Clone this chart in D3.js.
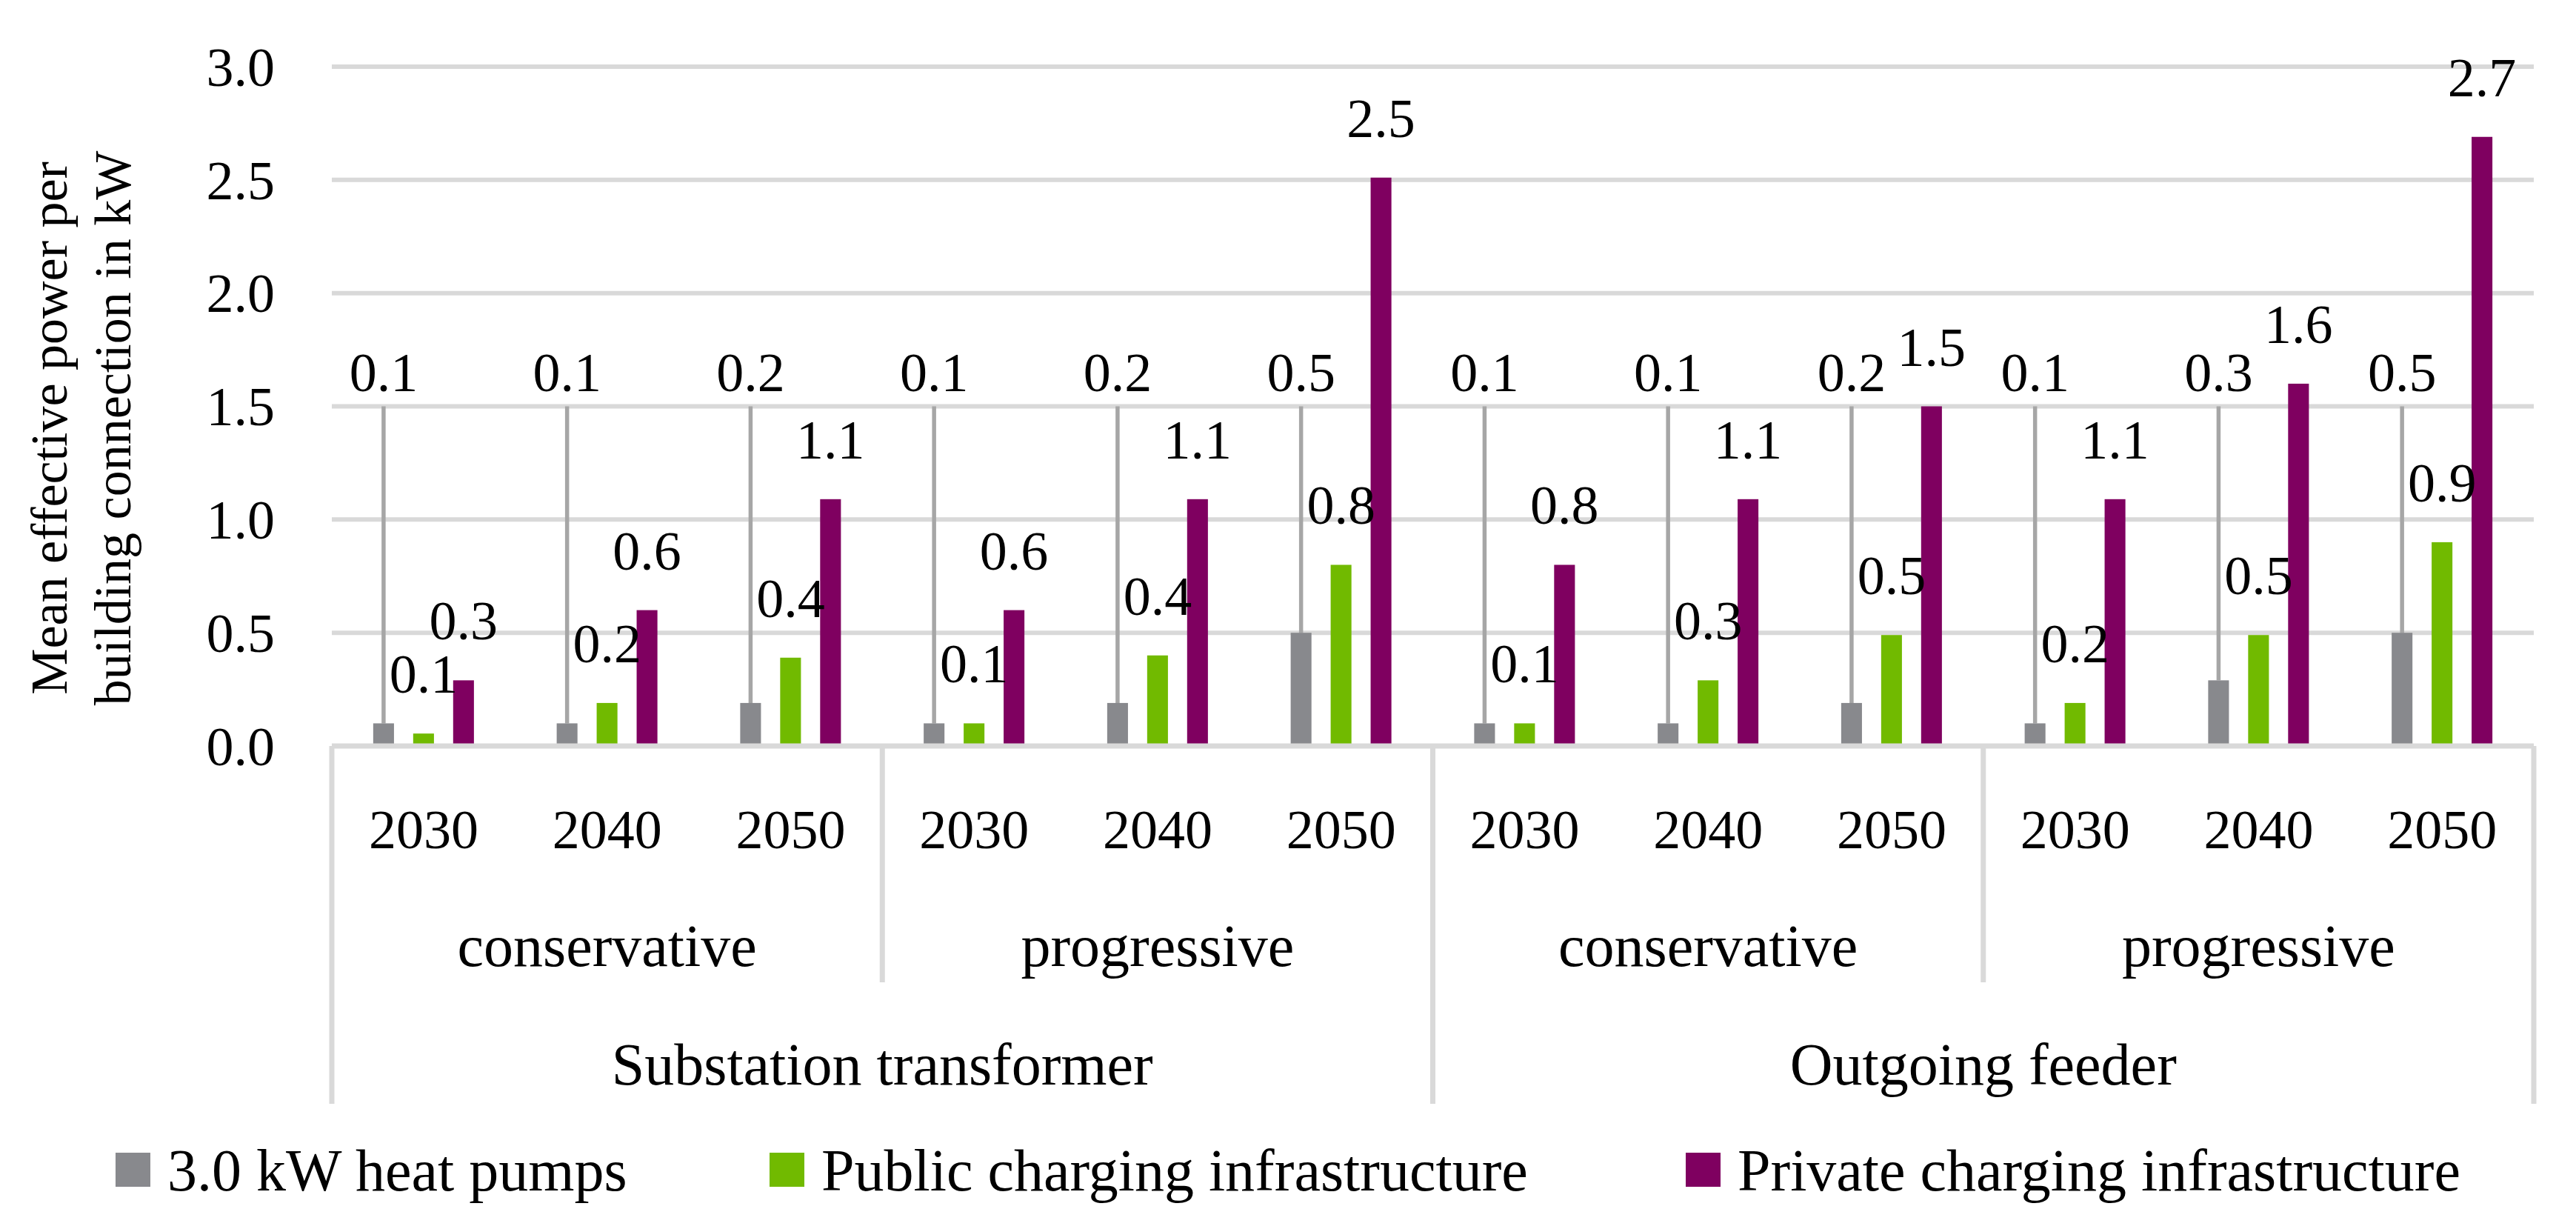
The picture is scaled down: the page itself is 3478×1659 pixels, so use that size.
<!DOCTYPE html>
<html>
<head>
<meta charset="utf-8">
<script src="https://cdn.jsdelivr.net/npm/d3@7"></script>
<style>
  body { margin: 0; background: #fff; }
  text { font-family: "Palatino Linotype", "Book Antiqua", Palatino, "Liberation Serif", serif; fill: #000; }
</style>
</head>
<body>
<div id="chart"></div>
<script>
// categories (outer group, scenario, year) and the three series
const groups = ['Substation transformer', 'Outgoing feeder'];
const scenarios = ['conservative', 'progressive'];
const years = ['2030', '2040', '2050'];
const seriesNames = ['3.0 kW heat pumps', 'Public charging infrastructure', 'Private charging infrastructure'];
const seriesColors = ['#88898D', '#71BA00', '#7F0060'];

// values in kW, one per group/scenario/year in the order above
const heatPumps       = [0.10, 0.10, 0.19, 0.10, 0.19, 0.50, 0.10, 0.10, 0.19, 0.10, 0.29, 0.50];
const publicCharging  = [0.055, 0.19, 0.39, 0.10, 0.40, 0.80, 0.10, 0.29, 0.49, 0.19, 0.49, 0.90];
const privateCharging = [0.29, 0.60, 1.09, 0.60, 1.09, 2.51, 0.80, 1.09, 1.50, 1.09, 1.60, 2.69];

const yTicks = [0, 0.5, 1.0, 1.5, 2.0, 2.5, 3.0];
const yTitle = ['Mean effective power per', 'building connection in kW'];

const W = 3478, H = 1659;
const plotLeft = 448, plotRight = 3421, plotTop = 90, plotBottom = 1007;
const fs = 74;      // numbers
const wordFs = 80;  // category words and legend
const gridColor = '#D9D9D9';

const svg = d3.select('#chart').append('svg')
  .attr('width', W).attr('height', H);

// build rows
const rows = [];
groups.forEach((g, gi) => scenarios.forEach((s, si) => years.forEach((yr, yi) => {
  const i = gi * 6 + si * 3 + yi;
  rows.push({key: g + '|' + s + '|' + yr, group: g, scenario: s, year: yr,
    values: [heatPumps[i], publicCharging[i], privateCharging[i]]});
})));

const x0 = d3.scaleBand().domain(rows.map(d => d.key)).range([plotLeft, plotRight]).padding(0);
const half = 68;
const x1 = d3.scaleBand().domain(d3.range(3))
  .range([x0.bandwidth() / 2 - half, x0.bandwidth() / 2 + half]).paddingInner(0.48);
const y = d3.scaleLinear().domain([0, 3]).range([plotBottom, plotTop]);
const fmt = d3.format('.1f');

// gridlines
svg.append('g').selectAll('line').data(yTicks.filter(t => t > 0)).join('line')
  .attr('x1', plotLeft).attr('x2', plotRight)
  .attr('y1', d => y(d)).attr('y2', d => y(d))
  .attr('stroke', gridColor).attr('stroke-width', 6);

// y axis labels
const yAxis = svg.append('g').attr('transform', `translate(${plotLeft - 77},0)`)
  .call(d3.axisLeft(y).tickValues(yTicks).tickFormat(fmt).tickSize(0).tickPadding(0));
yAxis.select('.domain').remove();
yAxis.selectAll('text').attr('font-size', fs).attr('dy', '0.34em')
  .style('font-family', '"Palatino Linotype", "Book Antiqua", Palatino, "Liberation Serif", serif');

// y title
const yt = svg.append('text').attr('transform', `translate(90,578) rotate(-90)`)
  .attr('text-anchor', 'middle').attr('font-size', 70);
yTitle.forEach((t, i) => yt.append('tspan').attr('x', 0).attr('y', i * 86).text(t));

// bars
const cats = svg.append('g').selectAll('g').data(rows).join('g')
  .attr('transform', d => `translate(${x0(d.key)},0)`);

// leader lines for the heat pump labels
const leaderTop = y(1.5);
cats.append('line')
  .attr('x1', x1(0) + x1.bandwidth() / 2).attr('x2', x1(0) + x1.bandwidth() / 2)
  .attr('y1', leaderTop).attr('y2', d => y(d.values[0]))
  .attr('stroke', '#A6A6A6').attr('stroke-width', 5.5);

cats.selectAll('rect').data(d => d.values.map((v, i) => ({v, i}))).join('rect')
  .attr('x', d => x1(d.i)).attr('width', x1.bandwidth())
  .attr('y', d => y(d.v)).attr('height', d => y(0) - y(d.v))
  .attr('fill', d => seriesColors[d.i]);

// value labels
cats.selectAll('text.val').data(d => d.values.map((v, i) => ({v, i}))).join('text')
  .attr('class', 'val')
  .attr('x', d => x1(d.i) + x1.bandwidth() / 2)
  .attr('y', d => d.i === 0 ? leaderTop - 21 : y(d.v) - 55)
  .attr('text-anchor', 'middle').attr('font-size', fs)
  .text(d => fmt(d.v));

// category axis: baseline and separators
const ax = svg.append('g');
ax.append('line').attr('x1', plotLeft).attr('x2', plotRight).attr('y1', plotBottom).attr('y2', plotBottom)
  .attr('stroke', gridColor).attr('stroke-width', 7);
const step = x0.step();
const seps = d3.range(0, rows.length + 1, 3).map(k => ({x: plotLeft + k * step, outer: k % 6 === 0}));
ax.selectAll('line.sep').data(seps).join('line').attr('class', 'sep')
  .attr('x1', d => d.x).attr('x2', d => d.x)
  .attr('y1', plotBottom).attr('y2', d => d.outer ? 1490 : 1326)
  .attr('stroke', gridColor).attr('stroke-width', 7);

// year labels
ax.selectAll('text.year').data(rows).join('text').attr('class', 'year')
  .attr('x', d => x0(d.key) + x0.bandwidth() / 2).attr('y', 1145)
  .attr('text-anchor', 'middle').attr('font-size', fs).text(d => d.year);

// scenario labels
const scen = [];
groups.forEach(g => scenarios.forEach(s => scen.push({g, s})));
ax.selectAll('text.scen').data(scen).join('text').attr('class', 'scen')
  .attr('x', (d, i) => plotLeft + (i * 3 + 1.5) * step).attr('y', 1304)
  .attr('text-anchor', 'middle').attr('font-size', wordFs).text(d => d.s);

// group labels
ax.selectAll('text.grp').data(groups).join('text').attr('class', 'grp')
  .attr('x', (d, i) => plotLeft + (i * 6 + 3) * step).attr('y', 1464)
  .attr('text-anchor', 'middle').attr('font-size', wordFs).text(d => d);

// legend
const legendX = [156, 1039, 2276];
const lg = svg.append('g').selectAll('g').data(seriesNames).join('g')
  .attr('transform', (d, i) => `translate(${legendX[i]},0)`);
lg.append('rect').attr('x', 0).attr('y', 1556).attr('width', 47).attr('height', 46)
  .attr('fill', (d, i) => seriesColors[i]);
lg.append('text').attr('x', 70).attr('y', 1607).attr('font-size', wordFs).text(d => d);
</script>
</body>
</html>
